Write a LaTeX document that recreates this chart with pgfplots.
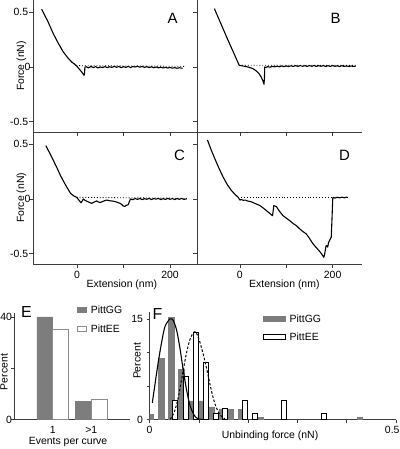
\documentclass[border=0pt]{standalone}
\usepackage{pgfplots}
\pgfplotsset{compat=1.18}
\usepackage{fontspec}
\setmainfont{Liberation Sans}
\newcommand{\fsz}{\fontsize{10.5}{12}\selectfont}
\definecolor{gg}{RGB}{125,125,125}
\definecolor{axc}{RGB}{60,60,60}
\pgfplotsset{
  every axis/.append style={
    scale only axis, axis x line=bottom, axis y line=left,
    axis line style={-, axc, line width=0.7pt},
    tick style={axc, line width=0.6pt}, tick align=outside,
    major tick length=3bp,
    tick label style={font=\fsz}, label style={font=\fsz},
    clip=true,
  },
  force/.style={width=164.5bp, height=132bp, ymin=-0.595, ymax=0.613,
    xtick={0,100,200}, ytick={-0.5,0,0.5}, major tick length=4bp,
    yticklabel style={inner xsep=0.7bp}},
  trace/.style={black, line width=1.1pt, line join=round},
  appr/.style={black, line width=0.9pt, dotted},
  legE/.style={legend image code/.code={\draw[##1] (0bp,-2.5bp) rectangle (9bp,2.5bp);}},
  legF/.style={legend image code/.code={\draw[##1] (0bp,-2.5bp) rectangle (22bp,2.5bp);}},
}
\begin{document}
\begin{tikzpicture}
\useasboundingbox (0,0) rectangle (400bp,449bp);
% ---------------- A
\begin{axis}[force, at={(33bp,317bp)}, anchor=south west, xmin=-94.6, xmax=259,
  xticklabels={,,}, yticklabels={-0.5,0\kern-2.4bp,0.5},
  ylabel={Force (nN)}, ylabel style={at={(axis description cs:-0.071,0.5)}, anchor=center}]
\addplot[appr] coordinates {(-11.5,0.046) (0,0.012) (230,0.006)};
\addplot[trace] coordinates {(-76,0.528) (-63,0.42) (-51,0.305) (-40,0.215) (-29.4,0.137) (-20,0.085) (-11.5,0.046) (-5,0.025) (0,0.005) (5,-0.02) (10,-0.045) (15,-0.076) (16,-0.07) (17,0.0)
(20,0.002) (25,-0.008) (30,0.005) (35,-0.005) (40,0.003) (45,-0.009) (50,0.000) (55,-0.006) (60,0.004) (65,-0.007) (70,0.002) (75,-0.004) (80,0.006) (85,-0.003) (90,0.004) (95,-0.006) (100,0.003) (105,-0.004) (110,0.006) (115,-0.005) (120,0.004) (125,0.000) (130,0.007) (135,-0.002) (140,0.005) (145,-0.004) (150,0.003) (155,-0.006) (160,0.002) (165,-0.007) (170,0.000) (175,-0.008) (180,-0.002) (185,-0.009) (190,-0.003) (195,-0.010) (200,-0.004) (205,-0.011) (210,-0.006) (215,-0.012) (220,-0.007) (227,-0.012)};
\end{axis}
% ---------------- B
\begin{axis}[force, at={(197bp,317bp)}, anchor=south west, xmin=-92.5, xmax=262.3,
  xticklabels={,,}, yticklabels={,,}]
\addplot[appr] coordinates {(-1.5,0.016) (250,0.015)};
\addplot[trace] coordinates {(-55,0.534) (-28.6,0.274) (-1.5,0.016) (5,0.01) (12,0.005) (20,-0.003) (28,-0.015) (35,-0.035) (41,-0.06) (46,-0.092) (50,-0.13) (52,-0.158) (53,-0.1) (53.5,0.0)
(56,-0.004) (60,0.003) (65,-0.002) (70,0.006) (75,0.001) (80,0.008) (85,0.002) (90,0.009) (95,0.003) (100,0.010) (105,0.004) (110,0.011) (115,0.005) (120,0.012) (125,0.006) (130,0.013) (135,0.006) (140,0.012) (145,0.005) (150,0.013) (155,0.006) (160,0.014) (165,0.005) (170,0.012) (175,0.006) (180,0.013) (185,0.004) (190,0.012) (195,0.005) (200,0.013) (205,0.006) (210,0.011) (215,0.004) (220,0.012) (225,0.005) (230,0.010) (235,0.004) (240,0.009) (245,0.005) (249.5,0.007)};
\end{axis}
% ---------------- C
\begin{axis}[force, at={(33bp,185bp)}, anchor=south west, xmin=-94.6, xmax=259,
  xticklabels={0,,200}, yticklabels={-0.5,0\kern-2.4bp,0.5},
  ylabel={Force (nN)}, ylabel style={at={(axis description cs:-0.071,0.502)}, anchor=center},
  xlabel={Extension (nm)}, xlabel style={at={(axis description cs:0.54,-0.155)}, anchor=center}]
\addplot[appr] coordinates {(-0.7,0.015) (236,0.006)};
\addplot[trace] coordinates {(-67,0.488) (-55,0.39) (-43.7,0.29) (-35,0.21) (-25.8,0.137) (-18,0.08) (-13.5,0.05) (-7,0.028) (-0.7,0.015) (4,-0.01) (8.6,-0.035) (11,-0.02) (13.6,0.0) (17,-0.012) (21,-0.02) (26,-0.03) (31.5,-0.04) (36,-0.03) (42.3,-0.018) (46,-0.028) (50,-0.032) (56,-0.022) (60,-0.015) (64,-0.01) (70,-0.016) (78,-0.02) (85,-0.028) (92.5,-0.04) (96,-0.05) (99.6,-0.065) (103,-0.068) (105,-0.06) (110,-0.052) (112.5,-0.025) (115,0.0)
(120,-0.006) (125,0.004) (130,-0.004) (135,0.005) (140,-0.006) (145,0.003) (150,-0.003) (155,0.006) (160,-0.005) (165,0.004) (170,-0.002) (175,0.005) (180,-0.006) (185,0.003) (190,-0.004) (195,0.005) (200,-0.003) (205,0.004) (210,-0.005) (215,0.004) (220,-0.003) (225,0.005) (230,-0.004) (236,0.002)};
\end{axis}
% ---------------- D
\begin{axis}[force, at={(197bp,185bp)}, anchor=south west, xmin=-92.5, xmax=262.3,
  xticklabels={0,,200}, yticklabels={,,},
  xlabel={Extension (nm)}, xlabel style={at={(axis description cs:0.531,-0.155)}, anchor=center}]
\addplot[appr] coordinates {(-3.6,0.018) (200,0.018)};
\addplot[trace] coordinates {(-70,0.54) (-62,0.45) (-53.8,0.366) (-45,0.28) (-35.8,0.198) (-27,0.13) (-18,0.076) (-10,0.04) (-3.6,0.015) (0,-0.01) (3,-0.005) (7,-0.012) (12,-0.01) (16,-0.018) (21.5,-0.022) (27,-0.03) (33,-0.042) (39.4,-0.053) (45,-0.065) (51,-0.085) (57.3,-0.107) (64,-0.13) (70.3,-0.153) (71.5,-0.12) (73.1,-0.061) (76,-0.065) (78.8,-0.07) (85,-0.11) (93.1,-0.153) (100,-0.175) (108,-0.2) (115,-0.225) (121.8,-0.244) (128,-0.27) (135,-0.295) (143.3,-0.32) (150,-0.36) (156,-0.4) (161,-0.427) (168,-0.46) (175.3,-0.497) (181,-0.534) (183,-0.5) (186,-0.427) (188,-0.43) (189.5,-0.44) (191,-0.4) (193.5,-0.38) (197,-0.35) (198.5,-0.2) (200.3,0.005)
(201,0.015) (205,0.008) (210,0.016) (215,0.01) (220,0.017) (225,0.011) (230,0.016) (233,0.014)};
\end{axis}
% ---------------- E
\begin{axis}[at={(14bp,29.5bp)}, anchor=south west, width=116bp, height=107bp,
  xmin=0, xmax=3, ymin=0, ymax=41.7,
  xtick={1,2}, xticklabels={1,>1}, xtick style={draw=none},
  ytick={0,20,40}, yticklabels={0,,40}, yticklabel style={inner xsep=0bp, xshift=1.2bp},
  ylabel={Percent}, ylabel style={at={(axis description cs:-0.086,0.444)}, anchor=center},
  xlabel={Events per curve}, xlabel style={at={(axis description cs:0.466,-0.21)}, anchor=center},
  legend style={at={(axis description cs:0.543,1.065)}, anchor=north west, draw=none, fill=none,
    inner sep=0pt, row sep=11.4bp, column sep=4bp, font=\fsz,
    nodes={inner sep=0pt, text height=7.6bp, text depth=0pt}},
  legend cell align=left]
\addplot[ybar, bar width=0.41, bar shift=0pt, fill=gg, draw=gg, legE]
  coordinates {(0.795,40) (1.795,7)};
\addlegendentry{PittGG}
\addplot[ybar, bar width=0.41, bar shift=0pt, fill=white, draw=black!45, line width=0.7pt, legE]
  coordinates {(1.205,35) (2.205,8)};
\addlegendentry{PittEE}
\end{axis}
% ---------------- F
\begin{axis}[at={(149.5bp,29.5bp)}, anchor=south west, width=246.5bp, height=107.6bp,
  xmin=0, xmax=0.5, ymin=0, ymax=16.1,
  xtick={0,0.1,0.2,0.3,0.4,0.5}, xticklabels={0,,,,,0.5\kern7.5bp},
  ytick={0,5,10,15}, yticklabels={0,,,15},
  ylabel={Percent}, ylabel style={at={(axis description cs:-0.0507,0.544)}, anchor=center},
  xlabel={Unbinding force (nN)}, xlabel style={at={(axis description cs:0.489,-0.149)}, anchor=center},
  legend style={at={(axis description cs:0.460,0.975)}, anchor=north west, draw=none, fill=none,
    inner sep=0pt, row sep=10.9bp, column sep=4bp, font=\fsz,
    nodes={inner sep=0pt, text height=7.6bp, text depth=0pt}},
  legend cell align=left]
\addplot[ybar, bar width=0.0108, bar shift=0pt, fill=gg, draw=gg, legF]
  coordinates {(0.003,0.75) (0.024,9.2) (0.044,15.3) (0.064,7.5) (0.085,2.8) (0.105,2.8) (0.125,1.9) (0.146,1.6) (0.165,1.5) (0.186,1.5) (0.226,0.3) (0.427,0.3)};
\addlegendentry{PittGG}
\addplot[ybar, bar width=0.0095, bar shift=0pt, fill=white, draw=black, line width=0.6pt, legF]
  coordinates {(0.052,2.8) (0.0736,6.5) (0.094,13.1) (0.114,8.5) (0.1345,0.9) (0.153,1.75) (0.193,2.8) (0.213,0.9) (0.273,2.8) (0.353,0.9)};
\addlegendentry{PittEE}
\addplot[black, line width=1.1pt, forget plot, smooth] coordinates {(0.0057,2.5) (0.0112,5.3) (0.0178,8.6) (0.0247,11.6) (0.0314,13.9) (0.0416,15.05) (0.0483,14.8) (0.0552,13.3) (0.0619,10.6) (0.0686,7.3) (0.0755,4.3) (0.0822,2.1) (0.0909,0.6) (0.099,0.1) (0.109,0.0)};
\addplot[black, line width=1.0pt, dash pattern=on 2.5bp off 1.8bp, forget plot, smooth] coordinates {(0.0416,0.0) (0.0503,1.1) (0.0584,3.3) (0.0665,6.6) (0.0755,10.1) (0.0836,12.3) (0.0923,13.15) (0.099,12.3) (0.1071,10.3) (0.116,7.6) (0.1247,4.6) (0.1329,2.3) (0.143,0.7) (0.153,0.1)};
\end{axis}
% panel letters
\node[font=\fontsize{15}{18}\selectfont] at (172.5bp,430.5bp) {A};
\node[font=\fontsize{15}{18}\selectfont] at (335.5bp,431bp) {B};
\node[font=\fontsize{15}{18}\selectfont] at (179.5bp,294bp) {C};
\node[font=\fontsize{15}{18}\selectfont] at (344.5bp,293.5bp) {D};
\node[font=\fontsize{16}{19}\selectfont] at (26.5bp,136.5bp) {E};
\node[font=\fontsize{16}{19}\selectfont] at (157.5bp,135bp) {F};
\end{tikzpicture}
\end{document}
